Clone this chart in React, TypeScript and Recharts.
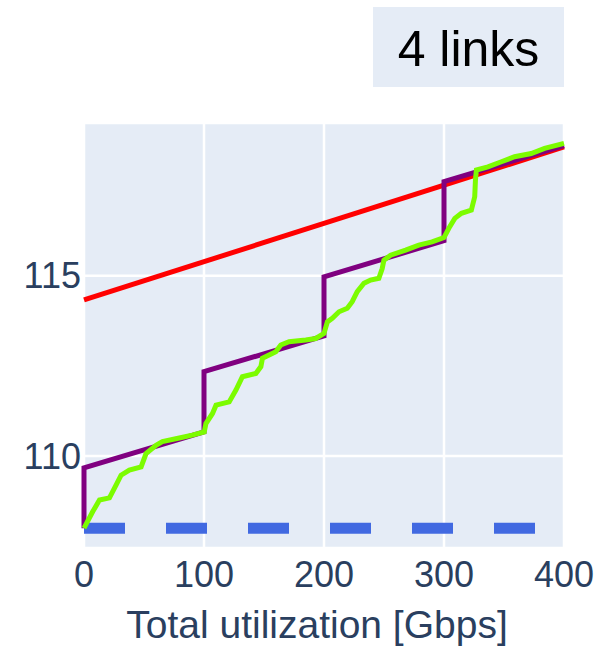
import React from "react";
import { LineChart, Line, XAxis, YAxis, CartesianGrid, Label } from "recharts";

const X_TICKS = [0, 100, 200, 300, 400];
const Y_TICKS = [110, 115];

const BASE_X = [0, 400];
const BASE_Y = [108, 108];

const RED_X = [0, 400];
const RED_Y = [114.33, 118.57];

const PURPLE_X = [0, 0, 100, 100, 200, 200, 300, 300, 400];
const PURPLE_Y = [108.0, 109.67, 110.67, 112.34, 113.33, 114.97, 115.97, 117.61, 118.61];

const GREEN_X = [
  0, 7.3, 12.9, 21.2, 26.8, 30.9, 37.8, 47.6, 51.7, 60, 65.3, 79.4, 90.2, 100.2,
  101.6, 107.1, 110, 121, 126.6, 132, 143.2, 147.4, 148.7, 159.8, 164, 170.9, 184.8, 193.1, 200,
  202.8, 206.9, 212.5, 219.4, 223.5, 227.7, 233.3, 238.8, 245.7, 248.5, 249.9, 255.5, 268, 279, 290, 300,
  304.8, 309, 314.5, 322.8, 325.6, 326.2, 327, 336.6, 347.8, 358.8, 372.7, 383.8, 400,
];
const GREEN_Y = [
  108.0, 108.46, 108.78, 108.84, 109.2, 109.47, 109.61, 109.7, 110.07, 110.3, 110.4, 110.5, 110.58, 110.67,
  110.9, 111.18, 111.41, 111.5, 111.83, 112.2, 112.29, 112.48, 112.71, 112.89, 113.08, 113.17, 113.22, 113.26, 113.4,
  113.72, 113.82, 114.0, 114.1, 114.28, 114.56, 114.79, 114.88, 114.93, 115.2, 115.43, 115.57, 115.71, 115.85, 115.94, 116.06,
  116.36, 116.59, 116.73, 116.82, 117.19, 117.65, 117.93, 118.02, 118.16, 118.3, 118.39, 118.53, 118.67,
];

const TITLE = "4 links";
const X_TITLE = "Total utilization [Gbps]";

const toRows = (xs: number[], ys: number[]) => xs.map((x, i) => ({ x, y: ys[i] }));

const FONT = "'Liberation Sans', Arial, sans-serif";
const TEXT_COLOR = "#2a3f5f";

const YTick = (props: any) => {
  const { x, y, payload } = props;
  return (
    <text x={x} y={y} dy={12.5} textAnchor="end" fill={TEXT_COLOR} fontSize={36} fontFamily={FONT}>
      {payload.value}
    </text>
  );
};

const XTick = (props: any) => {
  const { x, y, payload } = props;
  return (
    <text x={x} y={y} dy={38.5} textAnchor="middle" fill={TEXT_COLOR} fontSize={36} fontFamily={FONT}>
      {payload.value}
    </text>
  );
};

const XTitle = (props: any) => {
  const vb = props.viewBox || {};
  return (
    <text
      x={vb.x + vb.width / 2 - 7}
      y={638}
      textAnchor="middle"
      fill={TEXT_COLOR}
      fontSize={39}
      fontFamily={FONT}
    >
      {X_TITLE}
    </text>
  );
};

export default function App() {
  return (
    <div style={{ position: "absolute", left: 0, top: 0, width: 616, height: 647, background: "white" }}>
      <div
        style={{
          position: "absolute",
          left: 373,
          top: 7,
          width: 191,
          height: 80,
          background: "#E5ECF6",
          display: "flex",
          alignItems: "center",
          justifyContent: "center",
          fontFamily: FONT,
          fontSize: 50,
          color: "black",
          paddingTop: 3,
          boxSizing: "border-box",
        }}
      >
        {TITLE}
      </div>
      <LineChart width={616} height={647} margin={{ top: 123, right: 52, bottom: 0, left: 0 }}>
        <CartesianGrid fill="#E5ECF6" stroke="#ffffff" strokeWidth={2.5} />
        <XAxis
          dataKey="x"
          type="number"
          domain={[0, 400]}
          ticks={X_TICKS}
          axisLine={false}
          tickLine={false}
          tickSize={0}
          tickMargin={0}
          height={99}
          tick={<XTick />}
          interval={0}
        >
          <Label content={<XTitle />} />
        </XAxis>
        <YAxis
          type="number"
          domain={[107.45, 119.235]}
          ticks={Y_TICKS}
          axisLine={false}
          tickLine={false}
          tickSize={0}
          tickMargin={3}
          width={84}
          tick={<YTick />}
          allowDataOverflow
          interval={0}
        />
        <Line
          data={toRows(BASE_X, BASE_Y)}
          dataKey="y"
          stroke="#4169E1"
          strokeWidth={11}
          strokeDasharray="41 41"
          dot={false}
          activeDot={false}
          isAnimationActive={false}
        />
        <Line
          data={toRows(RED_X, RED_Y)}
          dataKey="y"
          stroke="#FF0000"
          strokeWidth={5}
          dot={false}
          activeDot={false}
          isAnimationActive={false}
        />
        <Line
          data={toRows(PURPLE_X, PURPLE_Y)}
          dataKey="y"
          stroke="#800080"
          strokeWidth={5}
          dot={false}
          activeDot={false}
          isAnimationActive={false}
        />
        <Line
          data={toRows(GREEN_X, GREEN_Y)}
          dataKey="y"
          stroke="#7CFC00"
          strokeWidth={5}
          dot={false}
          activeDot={false}
          isAnimationActive={false}
        />
      </LineChart>
    </div>
  );
}
